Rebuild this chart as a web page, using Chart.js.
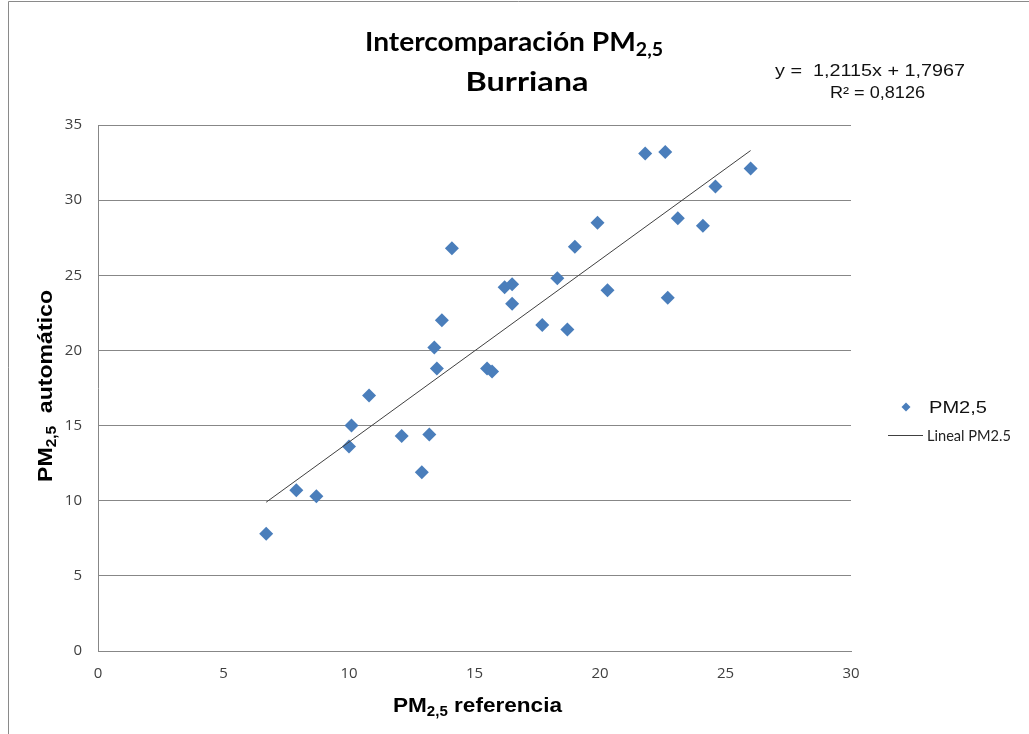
<!DOCTYPE html>
<html>
<head>
<meta charset="utf-8">
<title>Intercomparación PM2,5 Burriana</title>
<script src="https://cdn.jsdelivr.net/npm/chart.js@4.4.1/dist/chart.umd.min.js"></script>
<style>
  html, body { margin: 0; padding: 0; background: #fff; }
  #wrap { width: 1029px; height: 734px; }
</style>
</head>
<body>
<div id="wrap"><canvas id="pm-chart" width="1029" height="734"></canvas></div>
<script>
// Valores: PM2,5 referencia (x) y automático (y)
var refValues  = [6.7, 7.9, 8.7, 10.0, 10.1, 10.8, 12.1, 12.9, 13.2, 13.4, 13.5, 13.7, 14.1, 15.5, 15.7, 16.2,
                  16.5, 16.5, 17.7, 18.3, 18.7, 19.0, 19.9, 20.3, 21.8, 22.6, 22.7, 23.1, 24.1, 24.6, 26.0];
var autoValues = [7.8, 10.7, 10.3, 13.6, 15.0, 17.0, 14.3, 11.9, 14.4, 20.2, 18.8, 22.0, 26.8, 18.8, 18.6, 24.2,
                  24.4, 23.1, 21.7, 24.8, 21.4, 26.9, 28.5, 24.0, 33.1, 33.2, 23.5, 28.8, 28.3, 30.9, 32.1];

// Extremos de la línea de tendencia (Lineal PM2.5)
var trendX = [6.7, 26.0];
var trendY = [9.9, 33.3];

// Marcas de los ejes
var xTicks = [0, 5, 10, 15, 20, 25, 30];
var yTicks = [0, 5, 10, 15, 20, 25, 30, 35];

// Textos
var seriesName = "PM2,5";
var trendName = "Lineal PM2.5";
var equationText = "y =  1,2115x + 1,7967";
var r2Text = "R² = 0,8126";

var gridColor = "#878787";
var pointColor = "#4A7EBB";

// Dibuja texto con partes en subíndice, estirado en horizontal hasta "width"
function drawRichText(ctx, parts, spec) {
    var size = spec.size;
    var subSize = Math.round(size * 0.68);
    function fontOf(sub) {
        return spec.weight + " " + (sub ? subSize : size) + "px " + spec.family;
    }
    ctx.save();
    var widths = parts.map(function (p) {
        ctx.font = fontOf(p[1]);
        return ctx.measureText(p[0]).width;
    });
    var total = widths.reduce(function (a, b) { return a + b; }, 0);
    var sx = spec.width ? spec.width / total : 1;
    ctx.translate(spec.x, spec.y);
    if (spec.rotate) ctx.rotate(spec.rotate);
    ctx.scale(sx, 1);
    ctx.fillStyle = spec.color || "#000";
    ctx.textBaseline = "alphabetic";
    ctx.textAlign = "left";
    var cx = spec.align === "left" ? 0 : -total / 2;
    parts.forEach(function (p, i) {
        ctx.font = fontOf(p[1]);
        ctx.fillText(p[0], cx, p[1] ? size * 0.2 : 0);
        cx += widths[i];
    });
    ctx.restore();
}

// Títulos, ecuación, leyenda y marco
var decorPlugin = {
    id: "decor",
    beforeDraw: function (chart) {
        var ctx = chart.ctx;
        ctx.save();
        ctx.fillStyle = "#fff";
        ctx.fillRect(0, 0, chart.width, chart.height);
        ctx.strokeStyle = "#8a8a8a";
        ctx.lineWidth = 1;
        ctx.beginPath();
        ctx.moveTo(8.5, chart.height);
        ctx.lineTo(8.5, 1.5);
        ctx.lineTo(chart.width, 1.5);
        ctx.stroke();
        ctx.restore();
    },
    afterDraw: function (chart) {
        var ctx = chart.ctx;
        var calibri = "Lato, 'Open Sans', sans-serif";
        var arial = "'Liberation Sans', Arial, sans-serif";

        drawRichText(ctx, [["Intercomparación PM", 0], ["2,5", 1]],
            { x: 514, y: 51, width: 298, size: 26, weight: "bold", family: calibri });
        drawRichText(ctx, [["Burriana", 0]],
            { x: 527, y: 91, width: 123, size: 26, weight: "bold", family: calibri });

        drawRichText(ctx, [[equationText, 0]],
            { x: 870, y: 75.5, width: 190, size: 16, weight: "normal", family: arial, color: "#111" });
        drawRichText(ctx, [[r2Text, 0]],
            { x: 877.5, y: 97.5, width: 95, size: 16, weight: "normal", family: arial, color: "#111" });

        drawRichText(ctx, [["PM", 0], ["2,5", 1], [" referencia", 0]],
            { x: 477.5, y: 711.5, width: 169, size: 21, weight: "bold", family: arial });
        drawRichText(ctx, [["PM", 0], ["2,5", 1], ["  automático", 0]],
            { x: 52, y: 386, width: 192, size: 21, weight: "bold", family: arial, rotate: -Math.PI / 2 });

        // leyenda
        ctx.save();
        ctx.fillStyle = pointColor;
        ctx.beginPath();
        ctx.moveTo(906, 402.5);
        ctx.lineTo(910.5, 407);
        ctx.lineTo(906, 411.5);
        ctx.lineTo(901.5, 407);
        ctx.closePath();
        ctx.fill();
        ctx.strokeStyle = "#404040";
        ctx.lineWidth = 1;
        ctx.beginPath();
        ctx.moveTo(888, 435.5);
        ctx.lineTo(923, 435.5);
        ctx.stroke();
        ctx.restore();
        drawRichText(ctx, [[seriesName, 0]],
            { x: 929, y: 413, width: 58, size: 17, weight: "normal", family: arial, align: "left", color: "#111" });
        drawRichText(ctx, [[trendName, 0]],
            { x: 927, y: 441, width: 84, size: 15, weight: "normal", family: calibri, align: "left", color: "#222" });
    }
};

var points = refValues.map(function (x, i) { return { x: x, y: autoValues[i] }; });
var trendPoints = trendX.map(function (x, i) { return { x: x, y: trendY[i] }; });

var tickFont = { family: "'Open Sans', sans-serif", size: 15 };

var ctx = document.getElementById("pm-chart").getContext("2d");
var pmChart = new Chart(ctx, {
    type: "scatter",
    data: {
        datasets: [
            {
                label: seriesName,
                data: points,
                pointStyle: "rectRot",
                pointRadius: 7,
                backgroundColor: pointColor,
                borderColor: pointColor,
                borderWidth: 0,
                order: 2,
            },
            {
                label: trendName,
                data: trendPoints,
                showLine: true,
                borderColor: "#404040",
                borderWidth: 1,
                pointRadius: 0,
                fill: false,
                order: 1,
            },
        ],
    },
    options: {
        responsive: false,
        animation: false,
        devicePixelRatio: 1,
        layout: { padding: { top: 125, right: 178, left: 0, bottom: 0 } },
        plugins: {
            legend: { display: false },
            title: { display: false },
            tooltip: { enabled: false },
        },
        scales: {
            x: {
                type: "linear",
                min: 0,
                max: 30,
                afterBuildTicks: function (s) { s.ticks = xTicks.map(function (v) { return { value: v }; }); },
                afterFit: function (s) { s.height = 83; },
                ticks: { font: tickFont, color: "#404040", padding: 14, maxRotation: 0 },
                grid: { display: false, drawTicks: false },
                border: { display: true, color: gridColor, width: 1 },
            },
            y: {
                type: "linear",
                min: 0,
                max: 35,
                afterBuildTicks: function (s) { s.ticks = yTicks.map(function (v) { return { value: v }; }); },
                afterFit: function (s) { s.width = 98; },
                ticks: { font: tickFont, color: "#404040", padding: 16 },
                grid: { color: gridColor, drawTicks: false },
                border: { display: true, color: gridColor, width: 1 },
            },
        },
    },
    plugins: [decorPlugin],
});
</script>
</body>
</html>
